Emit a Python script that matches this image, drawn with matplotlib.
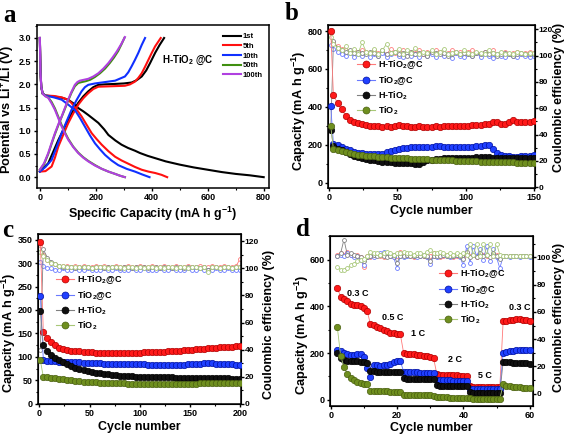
import matplotlib
matplotlib.use('Agg')
import matplotlib.pyplot as plt
from matplotlib.lines import Line2D
from matplotlib.ticker import MultipleLocator, FormatStrFormatter
import numpy as np

plt.rcParams['font.family'] = ['Liberation Sans', 'DejaVu Sans']
plt.rcParams['font.weight'] = 'bold'
plt.rcParams['axes.labelweight'] = 'bold'
plt.rcParams['mathtext.fontset'] = 'custom'
plt.rcParams['mathtext.rm'] = 'Liberation Sans:bold'
plt.rcParams['mathtext.it'] = 'Liberation Sans:bold'
plt.rcParams['mathtext.bf'] = 'Liberation Sans:bold'
plt.rcParams['mathtext.default'] = 'rm'

# ---------------- Panel a: voltage profiles ----------------
a_labels = ['1st', '5th', '10th', '50th', '100th']
a_colors = ['#000000', '#ff1010', '#1030ff', '#3f8f10', '#b040e0']

a_dis_1st_x = [0, 2, 5, 10, 20, 50, 80, 101, 120, 137, 155, 173, 190, 209, 230, 245, 270, 292, 315, 340, 358, 385, 412, 450, 500, 550, 600, 650, 700, 750, 800]
a_dis_1st_v = [3.0, 2.3, 1.95, 1.80, 1.76, 1.74, 1.71, 1.67, 1.59, 1.49, 1.42, 1.34, 1.26, 1.17, 1.03, 0.91, 0.79, 0.70, 0.63, 0.57, 0.52, 0.46, 0.41, 0.34, 0.27, 0.21, 0.16, 0.11, 0.07, 0.04, 0.0]
a_dis_5th_x = [0, 2, 5, 10, 20, 50, 78, 100, 113, 130, 149, 167, 185, 203, 221, 245, 269, 292, 316, 340, 364, 388, 412, 435, 455]
a_dis_5th_v = [3.0, 2.3, 1.95, 1.80, 1.76, 1.75, 1.72, 1.67, 1.60, 1.47, 1.31, 1.13, 0.95, 0.82, 0.70, 0.56, 0.44, 0.36, 0.29, 0.22, 0.16, 0.12, 0.09, 0.05, 0.0]
a_dis_10th_x = [0, 2, 5, 10, 20, 50, 78, 100, 125, 143, 161, 179, 197, 215, 233, 256, 280, 310, 340, 365, 392]
a_dis_10th_v = [3.0, 2.3, 1.95, 1.80, 1.76, 1.72, 1.67, 1.57, 1.45, 1.28, 1.09, 0.90, 0.73, 0.60, 0.48, 0.36, 0.26, 0.18, 0.12, 0.06, 0.0]
a_dis_50th_x = [0, 2, 5, 10, 20, 30, 42, 54, 66, 78, 90, 101, 119, 137, 155, 173, 197, 221, 245, 269, 287, 304]
a_dis_50th_v = [3.0, 2.3, 1.95, 1.80, 1.75, 1.72, 1.62, 1.48, 1.30, 1.12, 0.96, 0.83, 0.66, 0.53, 0.43, 0.35, 0.26, 0.18, 0.12, 0.07, 0.03, 0.0]
a_dis_100th_x = [0, 2, 5, 10, 20, 30, 42, 54, 66, 78, 90, 101, 119, 137, 155, 173, 197, 221, 245, 269, 287, 304]
a_dis_100th_v = [3.0, 2.3, 1.95, 1.80, 1.74, 1.71, 1.59, 1.45, 1.27, 1.09, 0.94, 0.81, 0.65, 0.52, 0.42, 0.34, 0.25, 0.18, 0.12, 0.07, 0.03, 0.0]

a_chg_1st_x = [0, 10, 30, 48, 66, 84, 101, 119, 137, 155, 173, 191, 209, 230, 269, 300, 328, 346, 364, 380, 394, 412, 428, 444]
a_chg_1st_v = [0.12, 0.18, 0.30, 0.55, 0.80, 1.02, 1.24, 1.43, 1.60, 1.74, 1.85, 1.94, 1.99, 2.00, 2.01, 2.02, 2.04, 2.09, 2.17, 2.30, 2.46, 2.68, 2.85, 3.0]
a_chg_5th_x = [0, 20, 42, 54, 66, 84, 101, 119, 137, 155, 173, 191, 209, 257, 304, 322, 340, 352, 364, 376, 388, 400, 412, 432]
a_chg_5th_v = [0.12, 0.13, 0.23, 0.42, 0.66, 0.92, 1.16, 1.37, 1.56, 1.70, 1.81, 1.90, 1.95, 1.96, 1.97, 2.00, 2.06, 2.14, 2.24, 2.38, 2.53, 2.68, 2.82, 3.0]
a_chg_10th_x = [0, 20, 42, 60, 78, 96, 113, 131, 149, 161, 173, 197, 221, 269, 304, 316, 328, 340, 352, 364, 376]
a_chg_10th_v = [0.12, 0.22, 0.37, 0.65, 0.95, 1.21, 1.45, 1.66, 1.85, 1.94, 1.99, 2.02, 2.04, 2.08, 2.17, 2.26, 2.39, 2.53, 2.68, 2.85, 3.0]
a_chg_50th_x = [0, 15, 30, 42, 54, 66, 78, 90, 101, 113, 125, 137, 150, 165, 180, 197, 215, 233, 250, 265, 280, 293, 302]
a_chg_50th_v = [0.16, 0.28, 0.50, 0.72, 0.93, 1.12, 1.30, 1.48, 1.65, 1.82, 1.96, 2.03, 2.05, 2.07, 2.10, 2.16, 2.24, 2.34, 2.46, 2.58, 2.72, 2.88, 3.0]
a_chg_100th_x = [0, 15, 30, 42, 54, 66, 78, 90, 101, 113, 125, 134, 143, 158, 173, 191, 209, 227, 245, 260, 275, 290, 304]
a_chg_100th_v = [0.16, 0.30, 0.52, 0.74, 0.95, 1.14, 1.31, 1.50, 1.67, 1.84, 1.99, 2.05, 2.08, 2.10, 2.12, 2.17, 2.24, 2.34, 2.46, 2.58, 2.71, 2.86, 3.02]

# ---------------- Common series info ----------------
series_labels = [r'H-TiO$_2$@C', r'TiO$_2$@C', r'H-TiO$_2$', r'TiO$_2$']
cap_colors = ['#ff1a1a', '#2040ff', '#101010', '#6f8f1f']
cap_edges = ['#b00000', '#0010a0', '#000000', '#4a6010']
ce_colors = ['#ff7a7a', '#6a7aff', '#808080', '#a8c878']

# ---------------- Panel b: cycling ----------------
b_cycles = [1] + list(range(3, 151, 3))
b_red = [800, 460, 420, 388, 352, 333, 322, 315, 309, 304, 300,
         298, 297, 296, 298, 295, 300, 302, 298, 300, 296,
         295, 297, 295, 296, 295, 297, 296, 297, 298, 297,
         298, 299, 298, 300, 302, 303, 305, 308, 312, 320,
         318, 308, 312, 318, 332, 322, 318, 320, 322, 323]
b_blue = [405, 205, 200, 190, 180, 170, 163, 158, 155, 152, 150,
          150, 150, 152, 160, 168, 172, 178, 182, 185, 186,
          187, 187, 188, 188, 190, 193, 195, 190, 188, 187,
          188, 188, 189, 190, 190, 192, 195, 198, 200, 175,
          155, 145, 140, 138, 137, 137, 138, 140, 142, 145]
b_black = [280, 195, 180, 170, 160, 150, 143, 135, 128, 123, 120,
           117, 114, 111, 109, 107, 106, 105, 104, 103, 102,
           100, 98, 110, 118, 122, 125, 127, 128, 129, 130,
           131, 131, 132, 132, 132, 133, 133, 133, 133, 132,
           132, 131, 131, 130, 130, 130, 130, 130, 129, 129]
b_green = [300, 175, 172, 168, 163, 158, 152, 148, 145, 142, 140,
           138, 136, 135, 134, 132, 131, 130, 129, 128, 127,
           126, 125, 124, 123, 122, 121, 120, 119, 118, 117,
           116, 115, 115, 114, 113, 112, 111, 110, 110, 109,
           109, 108, 108, 107, 107, 106, 106, 105, 105, 105]
b_ce_red = [117, 110, 107, 105, 104, 103, 104, 103, 104, 103, 102,
            104, 102, 103, 101, 105, 102, 103, 104, 101, 103,
            102, 104, 101, 103, 102, 104, 103, 101, 102, 104,
            102, 103, 101, 103, 104, 102, 101, 103, 102, 104,
            101, 102, 103, 101, 102, 103, 101, 102, 103, 102]
b_ce_blue = [108, 105, 103, 101, 100, 102, 99, 101, 100, 102, 99,
             101, 100, 102, 99, 101, 103, 100, 99, 102, 100,
             101, 99, 102, 100, 101, 99, 102, 100, 101, 98,
             102, 100, 99, 101, 100, 102, 99, 101, 100, 98,
             101, 100, 99, 101, 100, 99, 101, 100, 99, 100]
b_ce_black = [43, 111, 106, 104, 103, 104, 102, 103, 102, 101, 103,
              102, 100, 104, 101, 102, 103, 101, 102, 100, 103,
              101, 102, 101, 100, 103, 102, 101, 102, 100, 101,
              103, 101, 102, 101, 100, 102, 101, 103, 101, 102,
              100, 101, 102, 101, 100, 101, 102, 101, 101, 101]
b_ce_green = [114, 109, 106, 104, 107, 102, 105, 101, 110, 103, 102,
              105, 101, 104, 109, 102, 103, 105, 101, 104, 102,
              106, 101, 103, 102, 104, 101, 103, 105, 101, 102,
              103, 101, 104, 102, 101, 103, 102, 101, 104, 102,
              101, 103, 101, 102, 101, 103, 102, 101, 102, 102]

# ---------------- Panel c: long cycling ----------------
c_cycles = [1] + list(range(4, 201, 4))
c_red = [345, 153, 140, 132, 125, 119, 116, 114, 113, 112, 112,
         111, 111, 110, 109, 109, 109, 109, 108, 108, 108,
         108, 108, 109, 109, 109, 110, 110, 110, 111, 111,
         111, 112, 112, 113, 113, 114, 115, 115, 116, 117,
         117, 118, 119, 119, 120, 121, 122, 122, 123, 124]
c_blue = [230, 93, 92, 91, 91, 90, 90, 89, 89, 88, 88,
          87, 87, 86, 86, 86, 85, 85, 85, 85, 84,
          84, 84, 84, 84, 84, 84, 83, 83, 83, 83,
          83, 83, 83, 83, 83, 83, 84, 84, 84, 85,
          86, 86, 86, 85, 85, 84, 84, 84, 83, 83]
c_black = [197, 126, 113, 104, 98, 93, 88, 84, 80, 77, 74,
           72, 70, 68, 66, 65, 64, 63, 62, 61, 60,
           60, 59, 59, 58, 58, 58, 57, 57, 57, 56,
           56, 56, 56, 55, 55, 55, 55, 55, 54, 54,
           54, 54, 54, 54, 54, 54, 54, 53, 53, 53]
c_green = [93, 57, 56, 55, 54, 53, 52, 51, 50, 49, 48,
           47, 47, 46, 46, 45, 45, 45, 44, 44, 44,
           44, 43, 43, 43, 43, 43, 43, 43, 43, 43,
           43, 43, 43, 43, 43, 43, 43, 43, 43, 44,
           44, 44, 44, 45, 45, 45, 45, 45, 45, 45]
c_ce_red = [117, 110, 106, 104, 103, 102, 102, 102, 101, 102, 101,
            102, 101, 101, 102, 101, 102, 101, 101, 102, 101,
            101, 102, 101, 101, 102, 101, 101, 102, 101, 101,
            102, 101, 101, 102, 101, 101, 102, 101, 101, 102,
            101, 101, 102, 101, 101, 102, 101, 101, 102, 107]
c_ce_blue = [105, 102, 100, 100, 99, 99, 100, 99, 99, 100, 99,
             99, 100, 99, 99, 99, 100, 99, 99, 100, 99,
             99, 99, 100, 99, 99, 100, 99, 99, 99, 100,
             99, 99, 100, 99, 99, 99, 100, 99, 99, 100,
             99, 99, 99, 100, 99, 99, 100, 99, 99, 99]
c_ce_black = [40, 114, 108, 105, 103, 102, 101, 101, 101, 100, 101,
              101, 101, 100, 101, 101, 100, 101, 101, 101, 100,
              101, 101, 100, 101, 101, 101, 100, 101, 101, 100,
              101, 101, 100, 101, 101, 100, 101, 101, 101, 100,
              101, 99, 101, 101, 100, 101, 101, 100, 101, 101]
c_ce_green = [112, 109, 106, 104, 103, 102, 102, 101, 101, 101, 101,
              101, 101, 100, 101, 101, 101, 100, 101, 101, 101,
              100, 101, 101, 100, 101, 100, 101, 101, 100, 101,
              100, 101, 101, 100, 101, 101, 100, 101, 101, 100,
              101, 97, 101, 101, 100, 101, 101, 100, 101, 101]

# ---------------- Panel d: rate capability ----------------
d_cycles = list(range(2, 61))
d_red = [478, 442, 432, 422, 412, 405, 405, 400, 392, 380,
         323, 320, 312, 306, 300, 293, 288, 285, 282, 280,
         200, 198, 196, 194, 192, 190, 188, 186, 184, 180,
         110, 108, 107, 106, 105, 104, 104, 103, 102, 101,
         57, 56, 56, 55, 55, 55, 55, 54, 54, 54,
         338, 336, 340, 343, 345, 344, 342, 340, 338]
d_blue = [215, 208, 200, 195, 192, 190, 195, 196, 185, 137,
          96, 148, 147, 146, 147, 150, 155, 160, 165, 166,
          120, 118, 118, 117, 117, 116, 116, 115, 115, 115,
          85, 84, 84, 83, 83, 82, 82, 82, 81, 81,
          47, 46, 46, 46, 45, 45, 45, 45, 44, 44,
          200, 204, 207, 209, 211, 212, 213, 214, 215]
d_black = [200, 178, 170, 168, 166, 165, 165, 163, 161, 158,
           125, 122, 120, 119, 119, 118, 118, 118, 117, 117,
           92, 91, 90, 90, 89, 89, 88, 88, 88, 87,
           62, 61, 60, 60, 59, 59, 59, 58, 58, 58,
           32, 31, 30, 30, 30, 29, 29, 29, 28, 28,
           163, 162, 160, 159, 158, 157, 157, 156, 155]
d_green = [310, 188, 140, 110, 95, 85, 78, 73, 69, 66,
           38, 37, 37, 36, 36, 36, 35, 35, 35, 34,
           22, 21, 21, 20, 20, 20, 19, 19, 19, 18,
           11, 10, 10, 10, 9, 9, 9, 9, 8, 8,
           6, 5, 5, 5, 5, 5, 4, 4, 4, 4,
           66, 60, 57, 55, 54, 53, 52, 51, 50]
d_ce_red = [102, 103, 102, 104, 102, 101, 102, 100, 93, 101,
            100, 101, 102, 101, 100, 102, 101, 100, 101, 104,
            101, 102, 101, 100, 101, 102, 101, 100, 101, 103,
            101, 100, 101, 102, 101, 100, 101, 101, 100, 103,
            101, 102, 100, 101, 102, 101, 100, 101, 102, 100,
            101, 101, 101, 101, 101, 101, 101, 101, 101]
d_ce_blue = [101, 102, 101, 103, 102, 100, 101, 98, 94, 100,
             101, 100, 102, 103, 104, 102, 101, 100, 92, 101,
             100, 101, 102, 101, 100, 101, 102, 100, 95, 101,
             100, 101, 102, 101, 100, 101, 102, 100, 94, 108,
             96, 108, 101, 106, 98, 108, 97, 106, 100, 92,
             101, 101, 100, 101, 101, 100, 101, 101, 100]
d_ce_black = [101, 103, 113, 102, 103, 102, 101, 100, 97, 100,
              101, 102, 101, 102, 101, 100, 101, 102, 96, 101,
              101, 102, 101, 101, 102, 101, 101, 101, 97, 101,
              101, 101, 102, 101, 101, 101, 102, 101, 99, 104,
              100, 102, 100, 103, 101, 102, 100, 103, 101, 99,
              101, 101, 101, 101, 101, 101, 101, 101, 101]
d_ce_green = [93, 91, 91, 92, 94, 95, 97, 98, 99, 101,
              104, 103, 103, 102, 103, 104, 103, 102, 103, 103,
              104, 103, 103, 102, 103, 103, 102, 104, 105, 103,
              103, 104, 103, 102, 103, 102, 103, 102, 103, 102,
              110, 102, 110, 101, 110, 102, 110, 101, 110, 102,
              101, 101, 101, 101, 101, 101, 101, 101, 101]
d_rate_labels = ['0.3 C', '0.5 C', '1 C', '2 C', '5 C', '0.3 C']
d_rate_x = [8.2, 18.6, 26.3, 37.4, 46.4, 57.0]
d_rate_y = [457, 354, 282, 171, 105, 396]

# ---------------- Figure ----------------
W, H = 567, 437
fig = plt.figure(figsize=(W / 100, H / 100), dpi=100)

TICK_FS = 6.5
RTICK_FS = 6
XLABEL_FS = 9
YLABEL_FS = 9.2
RYLABEL_FS = 9


def style(ax, right=None):
    for sp in ax.spines.values():
        sp.set_linewidth(1.1)
    ax.tick_params(which='major', direction='out', length=2.5, width=1, labelsize=TICK_FS, pad=1.2)
    ax.tick_params(which='minor', direction='out', length=1.5, width=0.8)
    if right is not None:
        right.tick_params(which='major', direction='out', length=2.2, width=1, labelsize=RTICK_FS, pad=0.6)
        right.tick_params(which='minor', direction='out', length=1.3, width=0.8)


def px_axes(l, t, r, b):
    return fig.add_axes([l / W, 1 - b / H, (r - l) / W, (b - t) / H])


# Panel a
axa = px_axes(36.5, 25, 269.3, 188.3)
dis_x = [a_dis_1st_x, a_dis_5th_x, a_dis_10th_x, a_dis_50th_x, a_dis_100th_x]
dis_v = [a_dis_1st_v, a_dis_5th_v, a_dis_10th_v, a_dis_50th_v, a_dis_100th_v]
chg_x = [a_chg_1st_x, a_chg_5th_x, a_chg_10th_x, a_chg_50th_x, a_chg_100th_x]
chg_v = [a_chg_1st_v, a_chg_5th_v, a_chg_10th_v, a_chg_50th_v, a_chg_100th_v]
for i in range(5):
    axa.plot(dis_x[i], dis_v[i], color=a_colors[i], lw=1.5, label=a_labels[i], solid_joinstyle='round')
    axa.plot(chg_x[i], chg_v[i], color=a_colors[i], lw=1.5, solid_joinstyle='round')
axa.set_xlim(-12, 820)
axa.set_ylim(-0.24, 3.28)
axa.xaxis.set_major_locator(MultipleLocator(200))
axa.xaxis.set_minor_locator(MultipleLocator(100))
axa.yaxis.set_major_locator(MultipleLocator(0.5))
axa.yaxis.set_minor_locator(MultipleLocator(0.25))
axa.yaxis.set_major_formatter(FormatStrFormatter('%.1f'))
axa.set_xlabel(r'Specific Capacity (mA h g$^{-1}$)', fontsize=XLABEL_FS)
axa.set_ylabel(r'Potential vs Li$^{+}$/Li (V)', fontsize=YLABEL_FS)
axa.xaxis.set_label_coords(0.5, -0.10)
axa.yaxis.set_label_coords(-0.082, 0.48)
style(axa)
axa.legend(loc='center left', bbox_to_anchor=(0.80, 0.81), frameon=False, fontsize=5.5,
           handlelength=2.4, handletextpad=0.2, labelspacing=0.3, borderpad=0, borderaxespad=0)
axa.text(0.54, 0.786, r'H-TiO$_2$ @C', transform=axa.transAxes, fontsize=7, va='center', ha='left')


def cycling_panel(ax, cycles, caps, ces, xlim, ylim, ylim2, xmaj, xmin, ymaj, ymin, y2maj, y2min,
                  legpos, xl_y, yl_pos, yr_pos):
    ax2 = ax.twinx()
    for i in range(4):
        ax2.plot(cycles, ces[i], color=ce_colors[i], lw=0.6, marker='o', ms=2.8, mfc='white',
                 mec=ce_colors[i], mew=0.6, zorder=2)
    for i in range(4):
        ax.plot(cycles, caps[i], color=ce_colors[i], lw=0.6, marker='o', ms=4.6,
                mfc=cap_colors[i], mec=cap_edges[i], mew=0.5, zorder=3)
    ax.set_zorder(ax2.get_zorder() + 1)
    ax.patch.set_visible(False)
    ax.set_xlim(*xlim)
    ax.set_ylim(*ylim)
    ax2.set_ylim(*ylim2)
    ax.xaxis.set_major_locator(MultipleLocator(xmaj))
    ax.xaxis.set_minor_locator(MultipleLocator(xmin))
    ax.yaxis.set_major_locator(MultipleLocator(ymaj))
    ax.yaxis.set_minor_locator(MultipleLocator(ymin))
    ax2.yaxis.set_major_locator(MultipleLocator(y2maj))
    ax2.yaxis.set_minor_locator(MultipleLocator(y2min))
    ax.set_xlabel('Cycle number', fontsize=XLABEL_FS)
    ax.set_ylabel(r'Capacity (mA h g$^{-1}$)', fontsize=YLABEL_FS)
    ax2.set_ylabel('Coulombic efficiency (%)', fontsize=RYLABEL_FS)
    ax.xaxis.set_label_coords(0.5, xl_y)
    ax.yaxis.set_label_coords(*yl_pos)
    ax2.yaxis.set_label_coords(*yr_pos)
    style(ax, ax2)
    handles = [Line2D([0], [0], color=ce_colors[i], lw=0.8, marker='o', ms=5,
                      mfc=cap_colors[i], mec=cap_edges[i], mew=0.5) for i in range(4)]
    ax.legend(handles, series_labels, loc='center left', bbox_to_anchor=legpos, frameon=False,
              fontsize=6.5, handlelength=2.0, handletextpad=0.35, labelspacing=0.28,
              borderpad=0, borderaxespad=0)
    return ax2


axb = px_axes(328, 25, 535, 188.3)
cycling_panel(axb, b_cycles, [b_red, b_blue, b_black, b_green],
              [b_ce_red, b_ce_blue, b_ce_black, b_ce_green],
              (-1, 151), (-30, 832), (-0.75, 123.2), 50, 25, 200, 100, 20, 10, (0.139, 0.617),
              -0.105, (-0.097, 0.473), (1.0875, 0.559))

axc = px_axes(37.7, 234, 240.7, 403.7)
cycling_panel(axc, c_cycles, [c_red, c_blue, c_black, c_green],
              [c_ce_red, c_ce_blue, c_ce_black, c_ce_green],
              (-1.6, 200.5), (0, 362), (0, 125.4), 50, 25, 50, 25, 20, 10, (0.09, 0.596),
              -0.10, (-0.097, 0.417), (1.11, 0.467))

axd = px_axes(329.7, 236.3, 533, 406.3)
cycling_panel(axd, d_cycles, [d_red, d_blue, d_black, d_green],
              [d_ce_red, d_ce_blue, d_ce_black, d_ce_green],
              (-0.3, 61), (-28, 700), (-9.2, 115.4), 20, 10, 200, 100, 20, 10, (0.5375, 0.645),
              -0.09, (-0.094, 0.421), (1.096, 0.52))
for lab, x, y in zip(d_rate_labels, d_rate_x, d_rate_y):
    axd.text(x, y, lab, fontsize=6.5, ha='center', va='center')

# panel letters
for letter, x, y in [('a', 3, 4), ('b', 285, 2), ('c', 2, 219), ('d', 296, 218)]:
    fig.text(x / W, 1 - y / H, letter, fontsize=18, fontweight='bold',
             family=['Liberation Serif', 'DejaVu Serif'], va='top', ha='left')

fig.savefig('out.png', dpi=100)
